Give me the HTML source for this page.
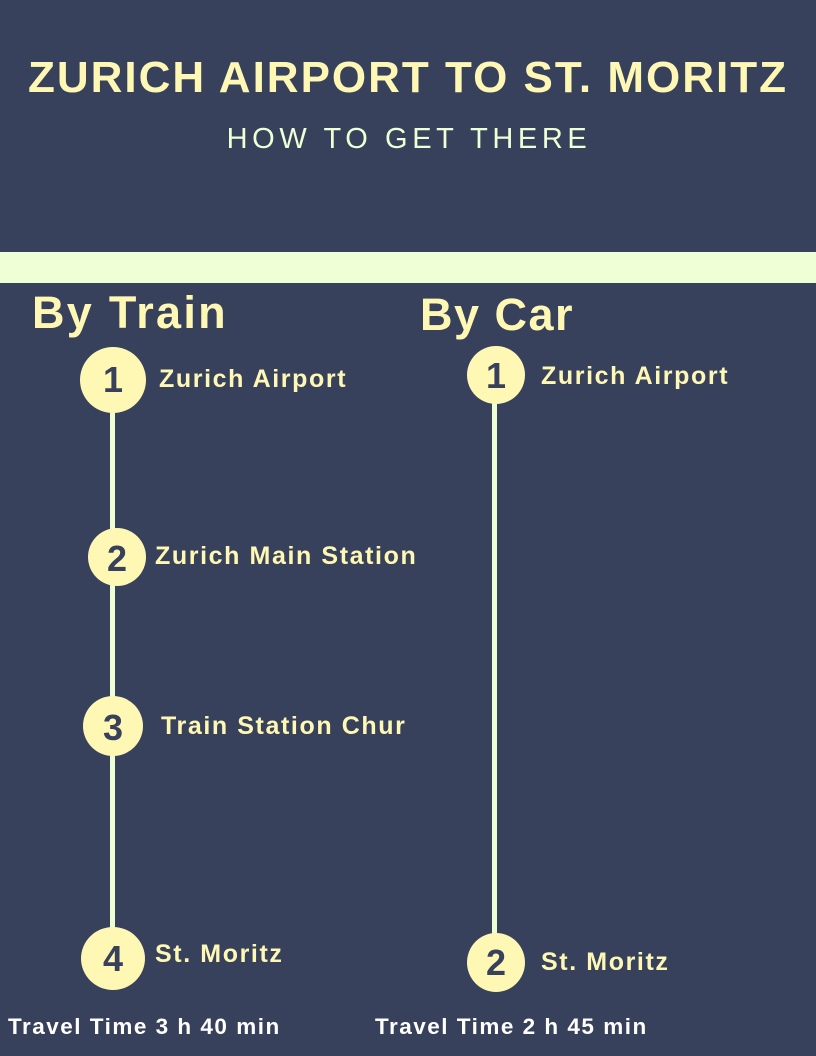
<!DOCTYPE html>
<html><head><meta charset="utf-8"><style>
body{margin:0;width:816px;height:1056px;background:#37415b;position:relative;overflow:hidden;font-family:"Liberation Sans",sans-serif;font-weight:bold}
.a{position:absolute;white-space:nowrap}
.y{color:#fff8b5}
.c{position:absolute;border-radius:50%;background:#fff8b5;color:#37415b;text-align:center;font-size:36px;font-weight:900}
.l{position:absolute;width:5px;background:#eeffd3}
.t{font-size:25px;letter-spacing:1.6px}
</style></head><body>
<div class="a y" style="left:0;width:816px;text-align:center;top:53px;font-size:44px;letter-spacing:2px">ZURICH AIRPORT TO ST. MORITZ</div>
<div class="a" style="left:0;width:818px;text-align:center;top:123px;font-size:29px;color:#efffd6;font-weight:normal;letter-spacing:4.6px">HOW TO GET THERE</div>
<div class="a" style="left:0;top:252px;width:816px;height:31px;background:#efffd6"></div>
<div class="a y" style="left:32px;top:287px;font-size:45px;letter-spacing:2.3px">By Train</div>
<div class="a y" style="left:420px;top:289px;font-size:45px;letter-spacing:1.5px">By Car</div>
<div class="l" style="left:110px;top:400px;height:540px"></div>
<div class="l" style="left:492px;top:390px;height:560px"></div>
<div class="c" style="left:80px;top:347px;width:66px;height:66px;line-height:66px">1</div>
<div class="c" style="left:88px;top:528px;width:58px;height:58px;line-height:62px">2</div>
<div class="c" style="left:83px;top:696px;width:60px;height:60px;line-height:64px">3</div>
<div class="c" style="left:81px;top:927px;width:64px;height:63px;line-height:63px">4</div>
<div class="c" style="left:467px;top:346px;width:58px;height:58px;line-height:60px">1</div>
<div class="c" style="left:467px;top:933px;width:58px;height:59px;line-height:59px">2</div>
<div class="a y t" style="left:159px;top:365px">Zurich Airport</div>
<div class="a y t" style="left:155px;top:542px">Zurich Main Station</div>
<div class="a y t" style="left:161px;top:712px">Train Station Chur</div>
<div class="a y t" style="left:155px;top:940px">St. Moritz</div>
<div class="a y t" style="left:541px;top:362px">Zurich Airport</div>
<div class="a y t" style="left:541px;top:948px">St. Moritz</div>
<div class="a" style="left:8px;top:1014px;color:#fff;font-size:22.5px;letter-spacing:1.5px">Travel Time 3 h 40 min</div>
<div class="a" style="left:375px;top:1014px;color:#fff;font-size:22.5px;letter-spacing:1.5px">Travel Time 2 h 45 min</div>
</body></html>
